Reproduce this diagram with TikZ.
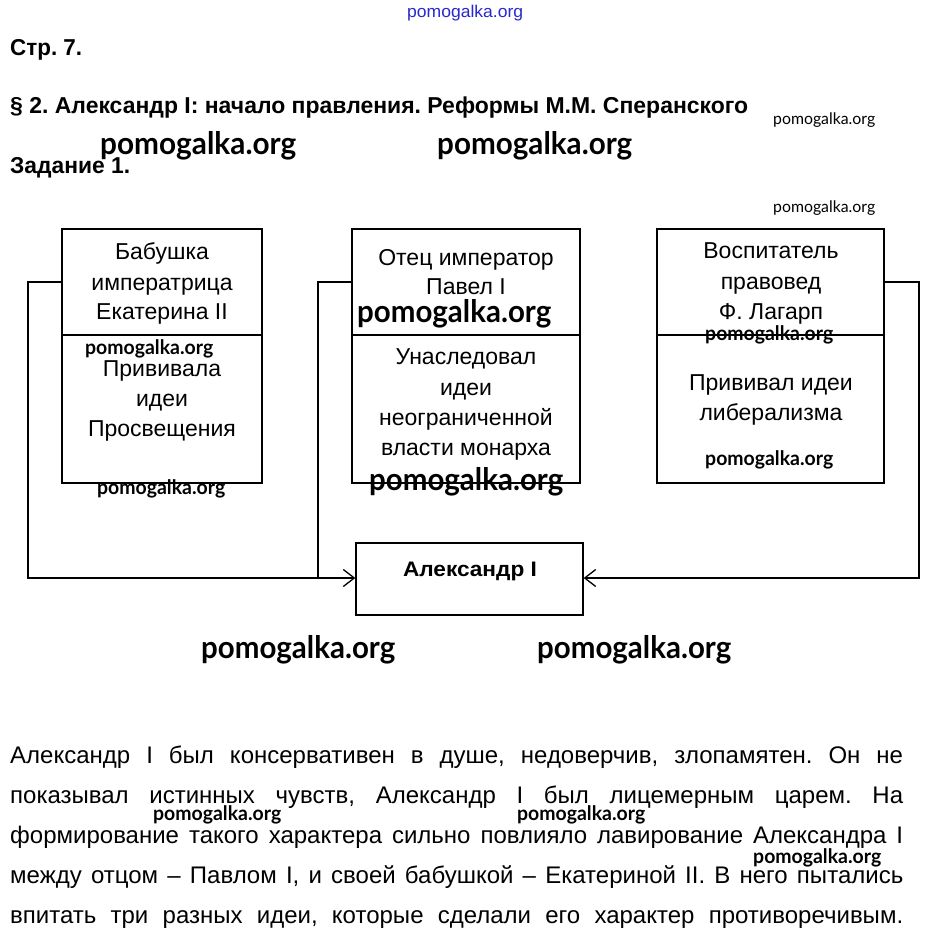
\documentclass[tikz,border=0pt]{standalone}
\usepackage{fontspec}
\usepackage{graphicx}
\setmainfont{Liberation Sans}
\newfontfamily\wmfont{Lato}
\usetikzlibrary{arrows.meta}
\frenchspacing
\newcommand{\fitw}[2]{\resizebox{#1}{\height}{#2}}
\definecolor{linkblue}{RGB}{40,40,210}
\tikzset{
  box/.style={draw=black, line width=1.3pt, rectangle, inner sep=0pt},
  conn/.style={draw=black, line width=1.2pt},
  arr/.style={conn, -{Straight Barb[length=11pt,width=17pt,line width=1.3pt]}},
  btxt/.style={anchor=base, inner sep=0pt, font=\fontsize{23}{27}\selectfont\frenchspacing},
  hdr/.style={anchor=base west, inner sep=0pt, font=\fontsize{23}{27}\selectfont\bfseries\frenchspacing},
  body/.style={anchor=base west, inner sep=0pt, font=\fontsize{24}{28}\selectfont\frenchspacing},
  wmbig/.style={anchor=base west, inner sep=0pt, font=\wmfont\bfseries\fontsize{31}{34}\selectfont},
  wmmid/.style={anchor=base west, inner sep=0pt, font=\wmfont\bfseries\fontsize{20}{24}\selectfont},
  wmsmall/.style={anchor=base west, inner sep=0pt, font=\wmfont\fontsize{16}{19}\selectfont}
}
\begin{document}
\begin{tikzpicture}[x=1pt,y=-1pt]
\useasboundingbox (0,0) rectangle (929,940);
\fill[white] (0,0) rectangle (929,940);

% header texts
\node[anchor=base west, inner sep=0pt, text=linkblue, font=\fontsize{17}{20}\selectfont] (site) at (407,17) {\fitw{116pt}{pomogalka.org}};
\node[hdr] (page) at (10,55) {\fitw{72pt}{Стр. 7.}};
\node[hdr] (title) at (10,113) {\fitw{738pt}{§ 2. Александр I: начало правления. Реформы М.М. Сперанского}};
\node[hdr] (task) at (10,173) {\fitw{120pt}{Задание 1.}};

% watermarks (upper)
\node[wmsmall] (w1) at (773,124) {\fitw{102pt}{pomogalka.org}};
\node[wmbig] (w2) at (100,154) {\fitw{196pt}{pomogalka.org}};
\node[wmbig] (w3) at (437,154) {\fitw{195pt}{pomogalka.org}};
\node[wmsmall] (w4) at (773,212) {\fitw{102pt}{pomogalka.org}};

% boxes
\node[box, minimum width=200pt, minimum height=106pt] (b1t) at (162,282) {};
\node[box, minimum width=200pt, minimum height=148pt] (b1b) at (162,409) {};
\node[box, minimum width=228pt, minimum height=106pt] (b2t) at (466,282) {};
\node[box, minimum width=228pt, minimum height=148pt] (b2b) at (466,409) {};
\node[box, minimum width=227pt, minimum height=106pt] (b3t) at (770.5,282) {};
\node[box, minimum width=227pt, minimum height=148pt] (b3b) at (770.5,409) {};
\node[box, minimum width=227pt, minimum height=72pt] (alex) at (469.5,579) {};

% box 1 texts
\node[btxt] (t11) at (162,259) {Бабушка};
\node[btxt] (t12) at (162,290) {императрица};
\node[btxt] (t13) at (162,319) {Екатерина II};
\node[btxt] (t14) at (162,376) {Прививала};
\node[btxt] (t15) at (162,406) {идеи};
\node[btxt] (t16) at (162,436) {Просвещения};
\node[wmmid] (w5) at (85,354) {\fitw{128pt}{pomogalka.org}};
\node[wmmid] (w6) at (97,494) {\fitw{128pt}{pomogalka.org}};

% box 2 texts
\node[btxt] (t21) at (466,265) {Отец император};
\node[btxt] (t22) at (466,294) {Павел I};
\node[btxt] (t23) at (466,364) {Унаследовал};
\node[btxt] (t24) at (466,395) {идеи};
\node[btxt] (t25) at (466,425) {неограниченной};
\node[btxt] (t26) at (466,455) {власти монарха};
\node[wmbig] (w7) at (357,322) {\fitw{194pt}{pomogalka.org}};
\node[wmbig] (w8) at (369,490) {\fitw{194pt}{pomogalka.org}};

% box 3 texts
\node[btxt] (t31) at (771,258) {Воспитатель};
\node[btxt] (t32) at (771,289) {правовед};
\node[btxt] (t33) at (771,319) {Ф. Лагарп};
\node[btxt] (t34) at (771,390) {Прививал идеи};
\node[btxt] (t35) at (771,420) {либерализма};
\node[wmmid] (w9) at (705,340) {\fitw{128pt}{pomogalka.org}};
\node[wmmid] (w10) at (705,465) {\fitw{128pt}{pomogalka.org}};

% Alexander
\node[anchor=base, inner sep=0pt, font=\fontsize{21}{25}\selectfont\bfseries] (alext) at (470,576) {\fitw{134pt}{Александр I}};

% connectors
\coordinate (c1a) at (28,282);
\coordinate (c1b) at (28,578);
\coordinate (c2a) at (318,282);
\coordinate (c2b) at (318,578);
\coordinate (c3a) at (919,282);
\coordinate (c3b) at (919,578);
\draw[arr] (b1t.west |- c1a) -- (c1a) -- (c1b) -- (alex.west |- c1b);
\draw[conn] (b2t.west |- c2a) -- (c2a) -- (c2b);
\draw[arr] (b3t.east |- c3a) -- (c3a) -- (c3b) -- (alex.east |- c3b);

% lower watermarks
\node[wmbig] (w11) at (201,658) {\fitw{194pt}{pomogalka.org}};
\node[wmbig] (w12) at (537,658) {\fitw{194pt}{pomogalka.org}};

% body text
\node[body] (l1) at (10,763) {\makebox[893pt][s]{Александр I был консервативен в душе, недоверчив, злопамятен. Он не}};
\node[body] (l2) at (10,803) {\makebox[893pt][s]{показывал истинных чувств, Александр I был лицемерным царем. На}};
\node[body] (l3) at (10,843) {\makebox[893pt][s]{формирование такого характера сильно повлияло лавирование Александра I}};
\node[body] (l4) at (10,883) {\makebox[893pt][s]{между отцом – Павлом I, и своей бабушкой – Екатериной II. В него пытались}};
\node[body] (l5) at (10,923) {\makebox[893pt][s]{впитать три разных идеи, которые сделали его характер противоречивым.}};

\node[wmmid] (w13) at (153,820) {\fitw{128pt}{pomogalka.org}};
\node[wmmid] (w14) at (517,820) {\fitw{128pt}{pomogalka.org}};
\node[wmmid] (w15) at (753,863) {\fitw{128pt}{pomogalka.org}};
\end{tikzpicture}
\end{document}
